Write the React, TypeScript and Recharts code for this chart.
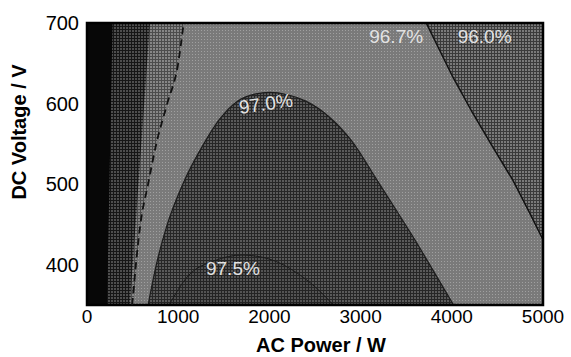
import React from 'react';
import { ComposedChart, Area, Line, XAxis, YAxis, ReferenceArea, ReferenceDot } from 'recharts';

const xTicks = [0, 1000, 2000, 3000, 4000, 5000];
const yTicks = [400, 500, 600, 700];
const vMin = 350;
const vMax = 700;

// background band (96.7% ... 97.0%)
const bgP = [0, 5000];
const bgLow = [350, 350];
// black strip (lowest efficiency), lower boundary of a band ending at 700 V
const blackP = [0, 220, 280];
const blackLow = [350, 350, 700];
// dark band
const bandBP = [0, 470, 690];
const bandBLow = [350, 350, 700];
// medium band left of the dashed contour
const bandCP = [0, 495, 585, 670, 760, 880, 1000, 1060];
const bandCLow = [350, 350, 450, 500, 550, 600, 650, 700];
// dashed contour
const contourP = [495, 585, 670, 760, 880, 1000, 1060];
const contourV = [350, 450, 500, 550, 600, 650, 700];
// right region (96.0%)
const rightP = [3720, 4011, 4230, 4450, 4669, 4855, 5000];
const rightLow = [700, 633, 588, 546, 505, 464, 431];
// 97.0% dome
const domeP = [670, 760, 880, 1050, 1280, 1450, 1650, 1850, 2000, 2200, 2400, 2650, 2900, 3180, 3400, 3600, 3800, 4020];
const domeV = [350, 400, 450, 500, 550, 580, 603, 612, 614, 611, 603, 584, 554, 505, 466, 430, 392, 350];
// 97.5% inner dome
const innerP = [900, 1100, 1400, 1700, 2000, 2300, 2600, 2700];
const innerV = [350, 385, 405, 412, 407, 390, 362, 350];

// contour labels
const labelText = ['96.7%', '96.0%', '97.0%', '97.5%'];
const labelP = [3390, 4360, 1960, 1600];
const labelV = [683, 683, 600, 395];
const labelAngle = [0, 0, -8, 0];

type Row = { p: number; [k: string]: any };
const rowMap = new Map<number, Row>();
function put(key: string, ps: number[], vals: any[]) {
  ps.forEach((p, i) => {
    const r = rowMap.get(p) ?? { p };
    r[key] = vals[i];
    rowMap.set(p, r);
  });
}
put('bg', bgP, bgLow.map((v) => [v, vMax]));
put('black', blackP, blackLow.map((v) => [v, vMax]));
put('bandB', bandBP, bandBLow.map((v) => [v, vMax]));
put('bandC', bandCP, bandCLow.map((v) => [v, vMax]));
put('contour', contourP, contourV);
put('right', rightP, rightLow.map((v) => [v, vMax]));
put('dome', domeP, domeV);
put('inner', innerP, innerV);
const data = Array.from(rowMap.values()).sort((a, b) => a.p - b.p);

const FONT = '"Liberation Sans", Arial, sans-serif';

const YTitle = (props: any) => {
  const vb = props.viewBox || { x: 0, y: 23, width: 87, height: 282 };
  const cx = vb.x + 26;
  const cy = vb.y + vb.height / 2 - 32;
  return (
    <text x={cx} y={cy} transform={`rotate(-90 ${cx} ${cy})`} textAnchor="middle" fontWeight="bold" fontSize={20} fontFamily={FONT} fill="#000">
      DC Voltage / V
    </text>
  );
};

const XTitle = (props: any) => {
  const vb = props.viewBox || { x: 87, y: 305, width: 456, height: 52 };
  const cx = vb.x + vb.width / 2 + 6;
  const cy = vb.y + 47;
  return (
    <text x={cx} y={cy} textAnchor="middle" fontWeight="bold" fontSize={20} fontFamily={FONT} fill="#000">
      AC Power / W
    </text>
  );
};

export default function App() {
  return (
    <div style={{ position: 'absolute', left: 0, top: 0, width: 571, height: 357, background: '#fff' }}>
      <ComposedChart width={571} height={357} data={data} margin={{ top: 23, right: 28, bottom: 0, left: 0 }}>
        <defs>
          <pattern id="patB" patternUnits="userSpaceOnUse" width="3" height="3">
            <rect width="3" height="3" fill="#161616" />
            <rect width="2" height="2" fill="#4e4e4e" />
          </pattern>
          <pattern id="patC" patternUnits="userSpaceOnUse" width="3" height="3">
            <rect width="3" height="3" fill="#4c4c4c" />
            <rect width="2" height="2" fill="#868686" />
          </pattern>
          <pattern id="patBg" patternUnits="userSpaceOnUse" width="3" height="3">
            <rect width="3" height="3" fill="#7a7a7a" />
            <rect width="1" height="1" fill="#a0a0a0" />
          </pattern>
          <pattern id="patDome" patternUnits="userSpaceOnUse" width="3" height="3">
            <rect width="3" height="3" fill="#262626" />
            <rect width="2" height="2" fill="#5a5a5a" />
          </pattern>
          <pattern id="patInner" patternUnits="userSpaceOnUse" width="3" height="3">
            <rect width="3" height="3" fill="#232323" />
            <rect width="2" height="2" fill="#535353" />
          </pattern>
          <pattern id="patRight" patternUnits="userSpaceOnUse" width="3" height="3">
            <rect width="3" height="3" fill="#3a3a3a" />
            <rect width="2" height="2" fill="#7a7a7a" />
          </pattern>
        </defs>
        <XAxis
          type="number"
          dataKey="p"
          domain={[0, 5000]}
          ticks={xTicks}
          interval={0}
          height={52}
          axisLine={false}
          tickLine={false}
          tickSize={3}
          tickMargin={2}
          tick={{ fontSize: 19, fill: '#000', fontFamily: FONT }}
          label={{ content: XTitle }}
        />
        <YAxis
          type="number"
          domain={[vMin, vMax]}
          ticks={yTicks}
          interval={0}
          width={87}
          axisLine={false}
          tickLine={false}
          tick={{ fontSize: 20, fill: '#000', fontFamily: FONT }}
          label={{ content: YTitle }}
        />
        <Area dataKey="bg" type="linear" stroke="none" fill="url(#patBg)" fillOpacity={1} connectNulls isAnimationActive={false} />
        <Area dataKey="right" type="linear" stroke="#111" strokeWidth={1.5} fill="url(#patRight)" fillOpacity={1} connectNulls isAnimationActive={false} />
        <Area dataKey="dome" type="monotone" baseValue={vMin} stroke="#1c1c1c" strokeWidth={1.2} fill="url(#patDome)" fillOpacity={1} connectNulls isAnimationActive={false} />
        <Area dataKey="inner" type="monotone" baseValue={vMin} stroke="#1a1a1a" strokeWidth={1} fill="url(#patInner)" fillOpacity={1} connectNulls isAnimationActive={false} />
        <Area dataKey="bandC" type="monotone" stroke="none" fill="url(#patC)" fillOpacity={1} connectNulls isAnimationActive={false} />
        <Area dataKey="bandB" type="linear" stroke="none" fill="url(#patB)" fillOpacity={1} connectNulls isAnimationActive={false} />
        <Area dataKey="black" type="linear" stroke="none" fill="#070707" fillOpacity={1} connectNulls isAnimationActive={false} />
        <Line dataKey="contour" type="monotone" stroke="#111" strokeWidth={1.8} strokeDasharray="7 5" dot={false} connectNulls isAnimationActive={false} />
        {labelText.map((t, i) => (
          <ReferenceDot
            key={t}
            x={labelP[i]}
            y={labelV[i]}
            r={0}
            fill="none"
            stroke="none"
            label={{ value: t, position: 'center', fill: '#e2e2e2', fontSize: 19, fontFamily: FONT, angle: labelAngle[i] }}
          />
        ))}
        <ReferenceArea x1={0} x2={5000} y1={vMin} y2={vMax} fill="none" stroke="#000" strokeWidth={2.5} />
      </ComposedChart>
    </div>
  );
}
